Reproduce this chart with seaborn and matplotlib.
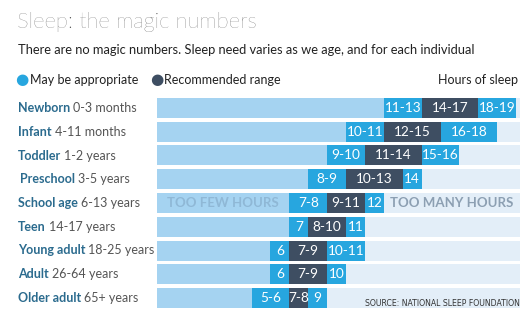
import matplotlib
matplotlib.use("Agg")
import matplotlib.pyplot as plt
import seaborn as sns
import pandas as pd

# ---- data ----
groups = ["Newborn", "Infant", "Toddler", "Preschool", "School age",
          "Teen", "Young adult", "Adult", "Older adult"]
ages = ["0-3 months", "4-11 months", "1-2 years", "3-5 years", "6-13 years",
        "14-17 years", "18-25 years", "26-64 years", "65+ years"]
low_labels = ["11-13", "10-11", "9-10", "8-9", "7-8", "7", "6", "6", "5-6"]
rec_labels = ["14-17", "12-15", "11-14", "10-13", "9-11", "8-10", "7-9", "7-9", "7-8"]
high_labels = ["18-19", "16-18", "15-16", "14", "12", "11", "10-11", "10", "9"]
low_start = [12, 10, 9, 8, 7, 7, 6, 6, 5]
rec_min = [14, 12, 11, 10, 9, 8, 7, 7, 7]
rec_max = [17, 15, 14, 13, 11, 10, 9, 9, 8]
high_end = [19, 18, 16, 14, 12, 11, 11, 10, 9]
scale_max = 19.2

df = pd.DataFrame({"group": groups, "low_start": low_start, "rec_min": rec_min,
                   "rec_max": rec_max, "high_end": high_end,
                   "full": [scale_max] * len(groups)})

C_PALE = "#e3eef8"
C_LEFT = "#a5d3f1"
C_BRIGHT = "#27a6df"
C_DARK = "#3e4e62"
C_LABEL = "#2b6b8e"
C_GRAY = "#555555"

sns.set_theme(style="white")
plt.rcParams["font.family"] = ["Lato", "DejaVu Sans"]

W, H = 527, 312
fig = plt.figure(figsize=(W / 100, H / 100), dpi=100)
fig.patch.set_facecolor("white")


def fx(x):
    return x / W


def fy(y):
    return 1 - y / H


ax = fig.add_axes([fx(157), fy(310), fx(520) - fx(157), fy(96) - fy(310)])
bw = 0.84
for col, c in [("full", C_PALE), ("high_end", C_BRIGHT), ("rec_max", C_DARK),
               ("rec_min", C_BRIGHT), ("low_start", C_LEFT)]:
    sns.barplot(data=df, x=col, y="group", color=c, saturation=1, width=bw,
                ax=ax, orient="h", edgecolor="none", linewidth=0)
ax.set_xlim(0, scale_max)
ax.set_ylim(len(groups) - 0.5, -0.5)
ax.set_xlabel("")
ax.set_ylabel("")
ax.set_xticks([])
ax.set_yticks([])
for s in ax.spines.values():
    s.set_visible(False)

seg_fs = 9.8
for i in range(len(groups)):
    ax.text((low_start[i] + rec_min[i]) / 2, i, low_labels[i], color="white",
            ha="center", va="center", fontsize=seg_fs)
    ax.text((rec_min[i] + rec_max[i]) / 2, i, rec_labels[i], color="white",
            ha="center", va="center", fontsize=seg_fs)
    ax.text((rec_max[i] + high_end[i]) / 2, i, high_labels[i], color="white",
            ha="center", va="center", fontsize=seg_fs)

ax.text(3.5, 4, "TOO FEW HOURS", color="#8fb8d6", ha="center", va="center",
        fontsize=9.5, fontweight="bold")
ax.text(15.6, 4, "TOO MANY HOURS", color="#8c9fb2", ha="center", va="center",
        fontsize=9.5, fontweight="bold")

# header
fig.text(fx(17), fy(22), "Sleep: the magic numbers", fontsize=15.8,
         color="#4a4a4a", fontweight="light", va="center", ha="left")
fig.text(fx(18), fy(50), "There are no magic numbers. Sleep need varies as we age, and for each individual",
         fontsize=9.3, color="#222222", va="center", ha="left")
fig.text(fx(15), fy(80), "\u25cf", color=C_BRIGHT, fontsize=11, va="center",
         ha="left", family="DejaVu Sans")
fig.text(fx(30), fy(80), "May be appropriate", color="#222222", fontsize=9,
         va="center", ha="left")
fig.text(fx(150), fy(80), "\u25cf", color=C_DARK, fontsize=11, va="center",
         ha="left", family="DejaVu Sans")
fig.text(fx(164), fy(80), "Recommended range", color="#222222", fontsize=9,
         va="center", ha="left")
fig.text(fx(518), fy(80), "Hours of sleep", color="#222222", fontsize=9,
         va="center", ha="right")

# row labels
fig.canvas.draw()
renderer = fig.canvas.get_renderer()
for i, (g, a) in enumerate(zip(groups, ages)):
    yc = 108 + i * 23.75
    x0 = 20 if g == "Preschool" else 18
    t = fig.text(fx(x0), fy(yc), g, color=C_LABEL, fontsize=9.0,
                 fontweight="bold", va="center", ha="left")
    bb = t.get_window_extent(renderer=renderer)
    fig.text(bb.x1 / W + fx(3), fy(yc), a, color=C_GRAY, fontsize=9.0,
             va="center", ha="left")

fig.text(fx(520), fy(303), "SOURCE: NATIONAL SLEEP FOUNDATION", color="#333333",
         fontsize=5.6, va="center", ha="right", family=["Liberation Sans Narrow", "DejaVu Sans"])

fig.savefig("out.png", dpi=100, facecolor="white")
